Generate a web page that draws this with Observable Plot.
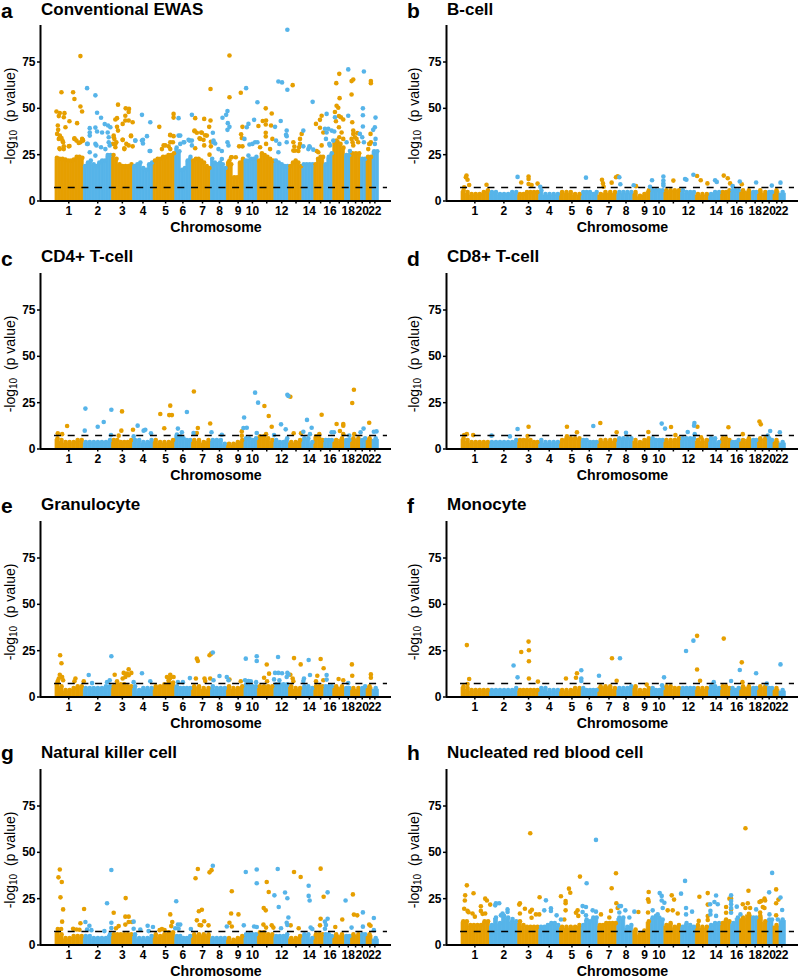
<!DOCTYPE html>
<html><head><meta charset="utf-8">
<script src="https://cdn.jsdelivr.net/npm/d3@7"></script>
<script src="https://cdn.jsdelivr.net/npm/@observablehq/plot@0.6"></script>
<style>
html,body{margin:0;padding:0;background:#fff}
#page{position:relative;width:800px;height:977px;overflow:hidden;font-family:"Liberation Sans",Arial,sans-serif;color:#000}
#page svg{position:absolute;overflow:visible;background:transparent}
.t{position:absolute;line-height:0;white-space:pre;font-weight:700}
.yl{position:absolute;line-height:1;white-space:pre;font-size:14px;transform:translate(-50%,-50%) rotate(-90deg)}
.yl sub{font-size:10px;line-height:0;vertical-align:-2px}
</style></head><body><div id="page"></div>
<script>
// Genome position unit: about 3 Mb per unit, from the start of chromosome 1.
const chromEnds=[2,87,172,235,297,362,412,469,517,570,610,660,704,744,780,810,837,872,890,920,937,955,974];
const tickPos=[42,129,203,265,333,385,444,495,551,594,637,682,725,765,799,827,855,882,904,924,947,962];
const tickText=["1","2","3","4","5","6","7","8","9","10","","12","","14","","16","","18","","20","","22"];
const yTicks=[0,25,50,75];
const threshold=7.3;
const orange="#E69F00", blue="#56B4E9";

// Top of the solid mass of points, per chromosome, left to right.
const massA=[[24.5,24,24,23.5,23,23,23.5,25,25,24.5],[20,22,23,21,20,22,23,23,26,26],[26,24,21,20,20,20,21],[20,21,22,19,18,21,22],[23,24,24,25,25,26,26,27],[30,28,18,19,23,25],[23,24,24,23,22,20,19],[24,22,21,22,21,19],[22,21,14,14,22,24],[23,23,24,24,25],[23,27,26,25,24,23],[23,22,21,20,20],[20,22,23,22,20],[21,21,21,21],[21,24,25,25],[21,25,27],[33,33,32,30],[26,26],[27,27,27],[24,24],[25,25],[28,28]];
const massB=[[7,6,5,5,5,6,7],[6,6,5,5,5,6,6],[5,5,6,6,6,6],[7,5,5,5,5],[6,6,6,5,5],[6,6,6,5,6],[5,6,6,6],[6,6,6,6],[6,4,5,7],[7,7,7,7],[7,7,7,7],[7,6,6,6],[5,5,5],[5,6,6],[6,6,7],[7,7,7],[7,7],[6,6],[7,6],[6,6],[7],[6]];
const massC=[[7,6,5,5,5,6,6],[5,5,5,5,5,5,6],[6,6,5,5,5,6],[6,6,5,5,6],[6,5,5,5,6],[9,8,7,6,6],[6,6,5,6],[6,6,6,4],[4,4,5,6],[7,7,6,7],[8,8,7,6],[6,5,5,7],[5,5,6],[7,7,5],[8,7,6],[6,6,6],[6,7],[6,6],[7,7],[6,7],[7],[7]];
const massD=[[7,6,5,5,5,5,5],[5,5,5,5,5,5,6],[6,6,6,6,5,5],[6,5,5,5,5],[6,7,7,7,7],[6,6,5,5,5],[6,6,6,6],[7,7,7,7],[6,5,6,7],[7,6,6,6],[6,6,6,7],[7,7,7,7],[6,6,6],[7,7,5],[7,7,6],[5,5,6],[6,7],[6,6],[7,7],[7,6],[6],[5]];
const massE=[[9,7,5,5,6,7,7],[6,6,6,6,6,7,7],[7,8,8,8,7,7],[7,5,6,6,6],[7,7,8,9,9],[7,6,6,6,6],[7,7,6,6],[7,6,6,6],[7,6,6,7],[8,7,7,7],[7,7,7,7],[8,8,8,8],[7,6,6],[7,7,6],[7,7,7],[7,7,7],[7,7],[6,6],[6,6],[6,7],[7],[6]];
const massF=[[7,6,5,5,5,5,5],[5,5,5,5,5,5,6],[5,5,5,5,5,5],[6,6,5,5,5],[5,5,5,6,6],[6,5,5,5,5],[7,7,7,6],[6,6,6,7],[7,5,5,6],[6,5,5,6],[7,7,6,6],[6,6,6,6],[6,6,6],[7,7,6],[7,7,6],[6,5,6],[7,7],[6,6],[7,7],[6,6],[6],[5]];
const massG=[[8,7,5,5,6,6,6],[6,6,5,5,5,5,7],[7,7,7,7,7,7],[7,5,5,5,6],[7,6,7,8,8],[6,6,5,5,6],[7,7,7,7],[5,5,5,5],[5,4,5,6],[7,7,7,7],[8,8,7,7],[6,6,6,7],[5,5,6],[7,7,5],[7,7,7],[7,7,6],[7,7],[6,6],[7,7],[7,7],[7],[5]];
const massH=[[14,14,12,12,12,12,14,14],[12,16,13,17,16,14,14],[14,12,11,11,11,11],[11,11,12,13,13,12],[11,11,11,11,12],[12,15,14,16,16],[12,12,13,13,13,13],[16,16,11,12],[9.5,7,9,14],[16,17,16,15],[12,13,11,12],[11,13,12,11],[12,11,11],[12,13,13],[13,15,14],[13,16],[16,18],[16,16],[17,14],[15,15],[12],[15]];

// Points that stand clear of the mass: [genome position, -log10 p].
const aOrange=[[20,58.7],[5,48.3],[15,47.5],[29,47.4],[27,45.2],[12,45.8],[44,43],[9,40.7],[32,39.8],[10,38.4],[7,36.2],[15,35.3],[20,34],[23,32.6],[55,58.7],[59,55],[77,51],[82,48.3],[67,42],[77,78.2],[59,33.9],[65,32.6],[82,33.5],[85,32.6],[77,31.7],[44,29.7],[27,29.5],[14,28.5],[27,28],[12,33.5],[25,31.7],[42,29.5],[59,33.5],[72,31.3],[84,33],[15,28],[190,52],[213,50],[223,49.7],[222,48],[212,46],[187,44.7],[182,44],[222,43.4],[234,42.5],[212,43.4],[204,41.6],[187,40],[190,38],[229,35],[177,35.3],[179,33.5],[204,33],[215,30.8],[222,30],[234,29.5],[185,31.7],[175,30.8],[209,28.5],[182,29],[177,34.4],[182,30.8],[204,33],[229,35.3],[209,28],[314,40],[357,47],[357,45],[347,35.5],[357,35],[327,30],[347,31.7],[355,31.7],[342,29.5],[322,28],[347,35.7],[332,30],[347,28],[468,60.4],[422,44.7],[449,44.3],[468,43.4],[464,40],[420,37.6],[427,36.8],[440,37],[452,35.5],[435,33.9],[447,33],[469,32],[469,29.5],[422,28.5],[465,25],[420,38],[442,36.8],[437,33.5],[457,35.3],[449,30],[525,78.5],[525,56],[559,58.4],[564,40],[560,36],[562,34],[554,29.5],[564,29.5],[530,23.6],[544,23.6],[525,21.8],[532,23.6],[634,50],[652,47.2],[625,43.2],[635,43.4],[612,40.5],[634,41.3],[650,40.7],[634,36.8],[634,34.8],[654,33.5],[635,30.8],[617,29],[647,28],[715,62.5],[742,36.2],[737,33.5],[717,31.7],[720,29.4],[734,29],[717,27.2],[732,27],[722,27.2],[737,30.8],[785,41.6],[802,46],[797,43.8],[797,39.5],[807,37],[787,27],[802,30],[792,26.3],[855,68.6],[846,63.6],[856,55.5],[847,51.4],[852,50.3],[842,48],[854,45.8],[860,45.2],[867,44],[845,43],[854,39.8],[862,37],[855,34.4],[867,33.5],[847,32.6],[892,64.7],[897,65.6],[892,57.5],[894,42.5],[897,38],[897,36.2],[892,33.5],[895,31.7],[897,30],[907,33.5],[909,36.6],[902,34.4],[912,31.7],[950,64.7],[950,63.6],[949,36.2],[945,30.8],[950,31.7],[947,30.8],[942,28]];
const aBlue=[[97,60.9],[122,57],[127,47.6],[139,44.9],[150,41.5],[160,40.7],[167,39.8],[122,39.6],[105,39.3],[105,37],[127,37.5],[142,37],[159,37],[162,34.4],[105,35.3],[99,30.8],[125,30],[139,29],[162,31.7],[97,30.8],[122,30.8],[105,26.3],[122,24.5],[152,28],[165,30],[262,46.5],[287,42.5],[277,35],[265,33],[242,32.6],[265,31],[287,27],[242,32.6],[262,32.6],[285,27],[372,44.7],[372,35.3],[377,35.3],[389,31.7],[412,46.5],[402,33],[412,32.6],[412,30],[377,30.8],[387,31.7],[405,32.6],[504,44.9],[515,46.5],[519,48.5],[475,36.8],[520,42],[525,40],[519,38.4],[477,32.6],[482,31],[519,31.7],[522,30],[502,27],[477,31.7],[492,28],[502,22.7],[575,60.9],[609,53.3],[599,43.8],[582,41.6],[577,39.8],[570,33.5],[585,30.5],[602,31.7],[609,31.7],[594,30.8],[582,24.5],[699,92.4],[672,64.5],[683,64],[699,60],[679,43.2],[662,40],[697,38],[695,35.7],[697,35],[665,32.6],[675,30.8],[697,31.7],[672,26.3],[775,53.5],[747,38],[747,29.5],[765,29.5],[777,27.7],[762,28],[767,29],[817,47],[812,39],[822,39],[832,38],[815,33.5],[825,30.8],[842,45.2],[840,37.5],[837,32.6],[827,30],[817,37],[882,71],[882,46],[877,31.7],[887,27],[929,69.9],[926,50],[926,46.3],[926,40.2],[917,36.2],[924,34.4],[929,31.7],[964,45],[962,39.8],[957,38.4],[964,33.5],[962,30.8]];
const bOrange=[[17,13.7],[15,12.8],[20,11.5],[25,8.6],[10,7.4],[77,8.8],[181,10],[203,13.2],[203,11.9],[203,9.2],[212,8.6],[230,9.4],[423,11.4],[426,9.5],[428,7.7],[452,9.9],[465,12.8],[470,13.3],[525,8],[637,11],[708,13.5],[719,11.2],[739,9.5],[788,13.7],[800,12.3],[807,9.5],[842,9]];
const bBlue=[[170,13],[375,12.6],[475,12.8],[478,9],[518,8.5],[573,11.2],[567,7.7],[607,13.2],[607,11],[607,9.5],[607,8.3],[672,11.9],[676,11.5],[697,14.2],[762,11.2],[767,10.3],[836,10.5],[815,8],[885,10],[932,8.3],[958,9.9],[238,7.7]];
const cOrange=[[37,12.4],[9,8.5],[22,8],[202,20.3],[200,9.9],[192,7.2],[235,10.4],[317,18.9],[347,23.4],[344,18.3],[352,18.3],[329,11.2],[418,31],[430,11.3],[467,13.8],[427,8.6],[562,9.5],[562,7.2],[630,23.2],[643,17.8],[652,12],[635,8],[708,28.2],[718,8.5],[740,8.5],[802,18.5],[795,8],[847,13.5],[857,9.7],[867,13.5],[867,12.6],[867,8],[899,32],[894,24.8],[900,8],[945,14.2]];
const cBlue=[[92,21.8],[90,9.9],[129,12],[147,14.6],[170,21.2],[169,7.5],[237,6.8],[249,12.6],[267,9.9],[272,10.4],[289,8.5],[370,11],[382,9],[397,20],[417,8.6],[471,9],[502,7.7],[569,17],[567,11.3],[577,11.5],[602,30.4],[611,25],[607,8.6],[680,13.3],[694,10.6],[659,7.5],[699,29.3],[702,28.6],[747,9.3],[758,15.7],[772,11.5],[767,8],[832,9],[839,9],[885,7.2],[919,9],[928,11],[959,9.3],[967,9.5]];
const dOrange=[[18,8],[10,7.5],[37,7.5],[203,12],[200,7],[318,12],[348,9],[318,6.8],[418,14],[467,9],[562,9.2],[630,11.9],[643,7.5],[709,12],[720,6.3],[802,11.7],[845,8],[895,14.8],[899,13.3]];
const dBlue=[[92,7.2],[147,6.8],[170,10.8],[397,12.4],[495,8.8],[602,13.7],[612,11],[680,9.2],[700,14],[699,12.6],[701,8],[927,9.7],[920,7.2],[956,9]];
const eOrange=[[16,22.5],[20,18.2],[15,12],[22,10.8],[12,10],[9,8.6],[25,9],[62,10],[59,8.5],[87,8.5],[180,12],[222,15],[207,13],[217,12.6],[230,13],[222,11.7],[204,10],[187,8.5],[212,10.8],[347,12],[337,10.8],[357,10.8],[347,10.2],[342,9],[427,20.7],[430,19.4],[424,10],[450,10],[470,23.4],[465,22.5],[452,8.6],[467,10],[525,9.4],[559,8.5],[637,17.5],[644,12.6],[629,10.4],[638,8.5],[719,21],[739,17.6],[708,12],[715,10],[717,8.5],[799,20.5],[808,15.5],[789,11.5],[807,9],[785,8.5],[853,9.7],[867,9],[893,17.6],[894,11.5],[950,12.2],[950,10.4]];
const eBlue=[[102,11.9],[112,7.5],[170,22],[165,9],[157,8],[262,12.8],[237,8],[287,8.5],[370,8],[385,8],[406,10.2],[477,9],[475,24],[495,11.3],[517,10.8],[522,9],[574,20.7],[572,9],[582,8.6],[589,8.5],[607,22],[607,19.4],[605,8],[671,21.6],[662,13],[672,13],[683,12.8],[699,13],[702,12.2],[697,10.8],[659,9.5],[675,9],[763,20],[767,11.9],[749,10],[747,8.6],[817,11.9],[817,9.4],[882,7.5]];
const fOrange=[[18,28],[25,9.7],[20,7],[203,29.9],[181,24.3],[204,25.2],[204,19.3],[204,10],[231,8.3],[315,10],[348,12.8],[345,10.4],[453,20.9],[467,8.8],[557,6.7],[708,33],[708,14.8],[717,8.8],[788,31.5],[842,18.7],[844,8]];
const fBlue=[[158,17],[170,10.6],[361,14.4],[361,10],[361,8.6],[414,11.5],[477,20.9],[609,10.6],[603,6.3],[675,24.8],[697,30.4],[758,8],[810,8.6],[836,14.6],[885,12.8],[917,7.2],[958,17.6]];
const gOrange=[[15,40.7],[11,36.5],[21,34],[17,25.7],[25,19.2],[22,12.6],[9,8.6],[19,8.6],[55,8.8],[65,8.4],[74,8.2],[77,11.7],[88,19.4],[177,17.4],[213,25.3],[212,15.3],[222,15.3],[192,10.2],[184,9],[212,11],[222,12.4],[232,12.4],[347,16.5],[353,12.4],[350,10.2],[322,8.6],[315,8],[330,8],[423,36],[430,41],[465,39.2],[471,40.4],[433,18.2],[442,19],[427,13.3],[435,10.8],[449,12.8],[462,10.6],[440,10.6],[532,29],[530,17],[525,12],[532,10],[552,16.5],[637,34],[643,28.6],[628,20],[634,18.7],[627,11],[635,9.4],[652,10.6],[657,9.4],[719,39.4],[739,36.7],[709,10.6],[733,9],[799,41.2],[808,26],[799,14.2],[797,10.6],[843,9.7],[864,13.8],[896,27.3],[899,16.4],[909,16],[945,11],[949,10.4]];
const gBlue=[[170,40.5],[157,22.5],[170,12],[170,9.2],[92,12.4],[104,10.4],[97,8.4],[110,8],[149,7.5],[237,12.6],[237,8.8],[257,8.4],[279,10.4],[295,9.7],[282,7.5],[365,23.6],[370,11],[377,11],[362,9],[372,8.8],[409,8.6],[475,42.8],[517,10],[568,10.6],[574,39.4],[607,40.7],[607,33.3],[599,10],[607,9.7],[670,41],[660,26.8],[673,20.5],[680,9],[692,28.3],[699,25.2],[702,14.8],[697,12],[699,10.8],[763,32],[763,26.5],[766,24],[769,9.4],[774,8.6],[820,28.4],[820,14.2],[812,12.6],[815,10.8],[812,8.8],[874,24],[892,9.4],[926,17.6],[926,9.9],[959,14.6],[959,8]];
const hOrange=[[208,60.3],[853,63],[465,38.7],[357,36.9],[18,32.2],[38,27.9],[13,26.8],[12,24],[73,25],[78,24],[88,21.8],[60,20.9],[10,19.6],[20,18.4],[35,17],[42,15.3],[60,18.4],[73,17],[23,17.7],[65,16.8],[177,22.5],[175,21.8],[192,19.6],[213,19],[177,17],[208,18],[212,14.7],[225,16.5],[235,16.5],[236,25.8],[300,26.3],[324,30.4],[328,28.2],[314,23.7],[314,22.5],[314,18.7],[345,17.4],[350,18.7],[352,15.7],[310,13.8],[452,30.6],[466,22.5],[450,18.4],[470,20],[420,16.5],[445,14.8],[563,28.6],[561,24.7],[563,23.4],[561,17.5],[532,17.8],[620,18.7],[632,26.8],[639,24.5],[635,18.7],[650,17],[715,26],[740,28],[740,21.8],[740,15.6],[740,13.5],[713,13],[795,17.4],[805,25],[810,25],[795,20.5],[810,19.2],[862,29.3],[860,22.5],[845,22],[853,20],[867,20],[895,23.2],[900,23.7],[910,25],[912,24],[905,20.5],[910,20],[897,17.5],[945,30],[952,24.5],[945,22.5],[945,16]];
const hBlue=[[405,56.7],[933,38.9],[672,34.6],[377,33.3],[924,28.4],[255,24.1],[105,22.5],[115,22.5],[103,21.4],[120,16],[140,19.2],[140,17.8],[125,17],[155,14],[250,18.7],[270,19.8],[270,18.4],[287,16],[300,13.8],[365,21],[375,20.5],[395,18.7],[405,18],[365,17.8],[375,16],[475,21],[480,21],[475,17.5],[493,18.7],[520,18],[505,14.8],[596,28],[602,26.5],[602,24],[610,22.8],[605,20],[575,18.7],[590,16.5],[660,27.7],[675,20],[693,18],[675,16.5],[765,26.7],[747,22],[760,23.2],[770,22],[748,18.4],[748,16.5],[765,15.7],[810,26.8],[810,23.7],[810,22],[810,20],[827,20.7],[810,17.4],[838,16.5],[885,19.2],[925,16.5],[958,25.6],[963,18.9],[950,13.8]];

const panels=[
 {k:"a",title:"Conventional EWAS",col:0,top:25,tb:15.5,lb:18,mass:massA,or:aOrange,bl:aBlue},
 {k:"b",title:"B-cell",col:1,top:25,tb:15.5,lb:18,mass:massB,or:bOrange,bl:bBlue},
 {k:"c",title:"CD4+ T-cell",col:0,top:273,tb:263,lb:266,mass:massC,or:cOrange,bl:cBlue},
 {k:"d",title:"CD8+ T-cell",col:1,top:273,tb:263,lb:266,mass:massD,or:dOrange,bl:dBlue},
 {k:"e",title:"Granulocyte",col:0,top:521,tb:511,lb:513,mass:massE,or:eOrange,bl:eBlue},
 {k:"f",title:"Monocyte",col:1,top:521,tb:511,lb:513,mass:massF,or:fOrange,bl:fBlue},
 {k:"g",title:"Natural killer cell",col:0,top:769,tb:759,lb:760,mass:massG,or:gOrange,bl:gBlue},
 {k:"h",title:"Nucleated red blood cell",col:1,top:769,tb:759,lb:760,mass:massH,or:hOrange,bl:hBlue}
];
const xDomain=[-43,1012], yDomain=[0,94.7], innerH=175.5, marginTop=5, marginBottom=32;
const page=document.getElementById("page");

function addText(cls,txt,left,baseline,fs){
  const d=document.createElement("div");d.className=cls;d.textContent=txt;
  d.style.left=left+"px";d.style.top=(baseline-0.3465*fs)+"px";d.style.fontSize=fs+"px";page.appendChild(d);
}
for(const p of panels){
  const ml=p.col?46:40, mr=p.col?2:9, x0=p.col?400:0;
  const bins=[];
  p.mass.forEach((hs,c)=>{
    const a=chromEnds[c],b=chromEnds[c+1],w=(b-a)/hs.length;
    hs.forEach((h,i)=>bins.push({x1:a+i*w,x2:a+(i+1)*w,h,c}));
  });
  const colorOf=d=>d.c%2?blue:orange;
  const chart=Plot.plot({
    width:400,height:marginTop+innerH+marginBottom,marginTop,marginBottom,marginLeft:ml,marginRight:mr,
    x:{domain:xDomain},y:{domain:yDomain},
    style:{fontFamily:'"Liberation Sans",Arial,sans-serif',background:"transparent",overflow:"visible"},
    marks:[
      Plot.rect(bins,{x1:"x1",x2:"x2",y1:0,y2:d=>d.h-2,fill:colorOf,stroke:colorOf,strokeWidth:0.7}),
      Plot.dot(bins,{x:d=>(d.x1+d.x2)/2,y:d=>d.h-1.2,r:2.3,fill:colorOf}),
      Plot.dot(p.or,{x:d=>d[0],y:d=>d[1],r:2.3,fill:orange}),
      Plot.dot(p.bl,{x:d=>d[0],y:d=>d[1],r:2.3,fill:blue}),
      Plot.ruleY([threshold],{x1:-15,x2:1000,stroke:"#000",strokeWidth:1.6,strokeDasharray:"7,6.7",strokeDashoffset:9}),
      Plot.ruleY([0],{stroke:"#000",strokeWidth:2}),
      Plot.ruleX([xDomain[0]],{stroke:"#000",strokeWidth:2}),
      Plot.axisY({ticks:yTicks,tickSize:3,tickPadding:2,label:null,fontSize:12,fontWeight:"bold",strokeWidth:1.5,color:"#000"}),
      Plot.axisX({ticks:tickPos,tickFormat:(d,i)=>tickText[i],tickSize:3,tickPadding:2,label:null,fontSize:12,fontWeight:"bold",strokeWidth:1.5,color:"#000"}),
      Plot.text(["Chromosome"],{frameAnchor:"bottom",dy:30.5,fontSize:14.2,fontWeight:"bold",fill:"#000"})
    ]
  });
  chart.style.left=x0+"px";chart.style.top=(p.top-marginTop)+"px";
  page.appendChild(chart);
  addText("t",p.title,x0+(p.col?47:41),p.tb,17);
  addText("t",p.k,x0+(p.col?7:1),p.lb,21);
  const yl=document.createElement("div");yl.className="yl";
  yl.innerHTML="-log<sub>10</sub>  (p value)";
  yl.style.left=(x0+(p.col?14:10))+"px";yl.style.top=(p.top+91)+"px";
  page.appendChild(yl);
}
</script></body></html>
